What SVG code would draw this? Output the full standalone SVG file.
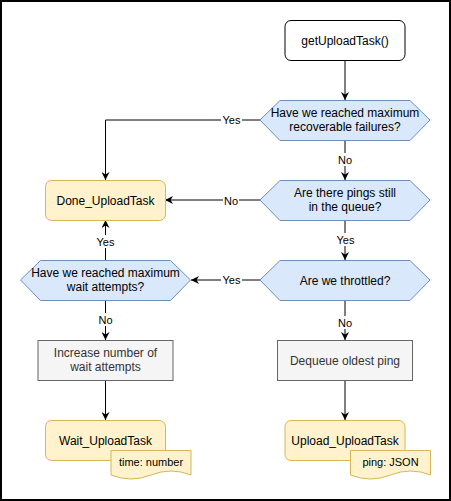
<svg xmlns="http://www.w3.org/2000/svg" width="451" height="501" viewBox="0 0 451 501">
  <style>
    text { font-family: "Liberation Sans", Arial, sans-serif; font-size: 12px; fill: #000; text-anchor: middle; }
    .start { fill: #fff; stroke: #000; stroke-width: 1; }
    .state { fill: #fff2cc; stroke: #d6b656; stroke-width: 1; }
    .decision { fill: #dae8fc; stroke: #6c8ebf; stroke-width: 1; }
    .process { fill: #f5f5f5; stroke: #666666; stroke-width: 1; }
    .process-text { fill: #333333; }
    .edge { fill: none; stroke: #000; stroke-width: 1; }
    .lbl-bg { fill: #fff; }
    .lbl { font-size: 11px; }
    .note-text { font-size: 11px; }
  </style>
  <defs>
    <marker id="arrow" viewBox="0 0 10 10" refX="10" refY="5" markerWidth="8" markerHeight="8" markerUnits="userSpaceOnUse" orient="auto">
      <path d="M0,0 L10,5 L0,10 L3,5 Z" fill="#000"/>
    </marker>
  </defs>

  <!-- frame -->
  <rect x="1" y="1" width="449" height="499" fill="#fff" stroke="#000" stroke-width="2"/>

  <!-- connectors -->
  <g id="connectors">
    <path class="edge" d="M345,60 V100" marker-end="url(#arrow)"/>
    <path class="edge" d="M260,120 H105.5 V180" marker-end="url(#arrow)"/>
    <path class="edge" d="M345,140 V180" marker-end="url(#arrow)"/>
    <path class="edge" d="M260,200 H165" marker-end="url(#arrow)"/>
    <path class="edge" d="M345,220 V260" marker-end="url(#arrow)"/>
    <path class="edge" d="M260,280 H191" marker-end="url(#arrow)"/>
    <path class="edge" d="M105.5,260 V220" marker-end="url(#arrow)"/>
    <path class="edge" d="M105.5,300 V340" marker-end="url(#arrow)"/>
    <path class="edge" d="M345,300 V340" marker-end="url(#arrow)"/>
    <path class="edge" d="M105.5,380 V420" marker-end="url(#arrow)"/>
    <path class="edge" d="M345,380 V420" marker-end="url(#arrow)"/>

    <!-- edge labels -->
    <rect class="lbl-bg" x="221" y="113" width="21" height="13"/>
    <text class="lbl" x="231.5" y="124">Yes</text>
    <rect class="lbl-bg" x="337" y="153" width="16" height="13"/>
    <text class="lbl" x="345" y="164">No</text>
    <rect class="lbl-bg" x="223" y="193" width="16" height="13"/>
    <text class="lbl" x="231" y="205">No</text>
    <rect class="lbl-bg" x="335" y="233" width="21" height="13"/>
    <text class="lbl" x="345.5" y="244">Yes</text>
    <rect class="lbl-bg" x="221" y="273" width="21" height="13"/>
    <text class="lbl" x="231.5" y="284">Yes</text>
    <rect class="lbl-bg" x="95" y="235" width="21" height="13"/>
    <text class="lbl" x="105.5" y="246">Yes</text>
    <rect class="lbl-bg" x="97" y="313" width="16" height="13"/>
    <text class="lbl" x="105.5" y="324">No</text>
    <rect class="lbl-bg" x="337" y="316" width="16" height="13"/>
    <text class="lbl" x="345" y="327">No</text>
  </g>

  <g id="getUploadTask">
    <rect class="start" x="285" y="20.5" width="120" height="40" rx="6"/>
    <text x="345" y="44.5">getUploadTask()</text>
  </g>

  <g id="maxRecoverableFailures">
    <polygon class="decision" points="260,120 280,100.5 410,100.5 430,120 410,140.5 280,140.5"/>
    <text x="345" y="117">Have we reached maximum</text>
    <text x="345" y="131">recoverable failures?</text>
  </g>

  <g id="Done_UploadTask">
    <rect class="state" x="45.5" y="180.5" width="120" height="40" rx="6"/>
    <text x="105.5" y="204.5">Done_UploadTask</text>
  </g>

  <g id="pingsInQueue">
    <polygon class="decision" points="260,200 280,180.5 410,180.5 430,200 410,220.5 280,220.5"/>
    <text x="345" y="197">Are there pings still</text>
    <text x="345" y="211">in the queue?</text>
  </g>

  <g id="throttled">
    <polygon class="decision" points="260,280 280,260.5 410,260.5 430,280 410,300.5 280,300.5"/>
    <text x="345" y="284.5">Are we throttled?</text>
  </g>

  <g id="maxWaitAttempts">
    <polygon class="decision" points="20.5,280 40.5,260.5 170.5,260.5 190.5,280 170.5,300.5 40.5,300.5"/>
    <text x="105.5" y="117" dy="160">Have we reached maximum</text>
    <text x="105.5" y="291">wait attempts?</text>
  </g>

  <g id="increaseWaitAttempts">
    <rect class="process" x="38" y="340.5" width="135" height="40"/>
    <text class="process-text" x="105.5" y="357">Increase number of</text>
    <text class="process-text" x="105.5" y="371">wait attempts</text>
  </g>

  <g id="dequeueOldestPing">
    <rect class="process" x="277.5" y="340.5" width="135" height="40"/>
    <text class="process-text" x="345" y="364.5">Dequeue oldest ping</text>
  </g>

  <g id="Wait_UploadTask">
    <rect class="state" x="45.5" y="420.5" width="120" height="40" rx="6"/>
    <text x="105.5" y="444.5">Wait_UploadTask</text>
    <path class="state" d="M111,450.5 H191 V475 Q171,467 151,475 T111,475 Z"/>
    <text class="note-text" x="151" y="465.5">time: number</text>
  </g>

  <g id="Upload_UploadTask">
    <rect class="state" x="285" y="420.5" width="120" height="40" rx="6"/>
    <text x="345" y="444.5">Upload_UploadTask</text>
    <path class="state" d="M350.5,450.5 H430.5 V475 Q410.5,467 390.5,475 T350.5,475 Z"/>
    <text class="note-text" x="390.5" y="465.5">ping: JSON</text>
  </g>
</svg>
